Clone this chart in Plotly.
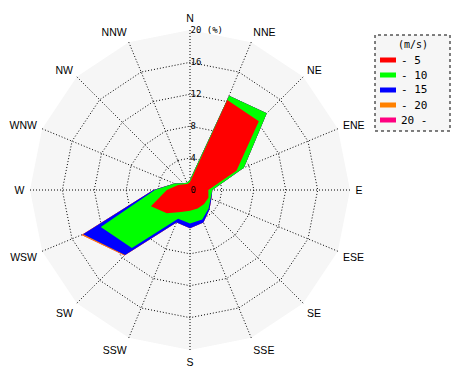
import numpy as np
import plotly.graph_objects as go

directions = ["N", "NNE", "NE", "ENE", "E", "ESE", "SE", "SSE",
              "S", "SSW", "SW", "WSW", "W", "WNW", "NW", "NNW"]

# frequency (%) per wind-speed class and direction
speed_classes = ["- 5", "- 10", "- 15", "- 20", "20 -"]
freq_0_5   = [1.0, 12.2, 12.2, 6.3, 2.3, 2.5, 2.5, 2.5, 2.6, 3.0, 4.1, 5.3, 2.9, 1.6, 1.0, 0.8]
freq_5_10  = [0.3, 0.6, 1.4, 1.0, 0.5, 0.3, 0.8, 1.5, 1.6, 0.9, 6.2, 6.8, 1.5, 0.5, 0.2, 0.2]
freq_10_15 = [0.0, 0.0, 0.0, 0.0, 0.0, 0.1, 0.15, 0.4, 0.6, 0.5, 1.2, 2.4, 0.2, 0.0, 0.0, 0.0]
freq_15_20 = [0.0, 0.0, 0.0, 0.0, 0.0, 0.0, 0.0, 0.0, 0.0, 0.0, 0.1, 0.2, 0.0, 0.0, 0.0, 0.0]
freq_20_up = [0.0] * 16
colors = ["#ff0000", "#00ff00", "#0000ff", "#ff8000", "#ff0080"]

radial_ticks = [0, 4, 8, 12, 16, 20]
radial_ticktext = ["0", "4", "8", "12", "16", "20 (%)"]
legend_title = "(m/s)"

series = [freq_0_5, freq_5_10, freq_10_15, freq_15_20, freq_20_up]
cum = np.cumsum(np.array(series), axis=0)

fig = go.Figure()
# draw outermost (cumulative) first so smaller classes sit on top
for i in reversed(range(len(series))):
    fig.add_trace(go.Scatterpolar(
        r=list(cum[i]), theta=directions,
        mode="lines", fill="toself", fillcolor=colors[i],
        line=dict(width=0, color=colors[i]),
        name=speed_classes[i], showlegend=False,
        hoverinfo="skip",
    ))

W, H = 470, 380
cx, cy, R = 190, 190, 160
DOT = "1px,2px"

# hand-built legend box (compact rows like the reference)
lx0, lx1, ly0, ly1 = 375, 450, 35, 131
shapes = [dict(type="rect", xref="paper", yref="paper",
               x0=lx0 / W, x1=lx1 / W, y0=1 - ly1 / H, y1=1 - ly0 / H,
               line=dict(color="black", width=1, dash="dot"),
               fillcolor="#f6f6f6", layer="below")]
annotations = [dict(text=legend_title, xref="paper", yref="paper",
                    x=413 / W, y=1 - 44 / H, xanchor="center", yanchor="middle",
                    showarrow=False,
                    font=dict(family="DejaVu Sans Mono", size=10, color="black"))]
for k, (name, col) in enumerate(zip(speed_classes, colors)):
    yc = 60 + 15 * k
    shapes.append(dict(type="rect", xref="paper", yref="paper",
                       x0=380 / W, x1=396 / W, y0=1 - (yc + 2.5) / H, y1=1 - (yc - 2.5) / H,
                       line=dict(width=0), fillcolor=col, layer="above"))
    annotations.append(dict(text=name, xref="paper", yref="paper",
                            x=399 / W, y=1 - yc / H, xanchor="left", yanchor="middle",
                            showarrow=False,
                            font=dict(family="DejaVu Sans Mono", size=11, color="black")))

fig.update_layout(
    width=W, height=H,
    margin=dict(l=0, r=0, t=0, b=0),
    paper_bgcolor="white",
    font=dict(family="Liberation Sans", size=12, color="black"),
    polar=dict(
        domain=dict(x=[(cx - R) / W, (cx + R) / W],
                    y=[1 - (cy + R) / H, 1 - (cy - R) / H]),
        bgcolor="#f6f6f6",
        gridshape="linear",
        angularaxis=dict(
            type="category", categoryarray=directions,
            rotation=90, direction="clockwise",
            showline=False, ticks="outside", ticklen=3, tickcolor="rgba(0,0,0,0)",
            showgrid=True, gridcolor="black", griddash=DOT, gridwidth=1,
            tickfont=dict(family="Liberation Sans", size=10.5),
        ),
        radialaxis=dict(
            range=[0, 20.05], angle=90, side="clockwise",
            tickvals=radial_ticks, ticktext=radial_ticktext,
            showline=False, ticks="",
            showgrid=True, gridcolor="black", griddash=DOT, gridwidth=1,
            tickfont=dict(family="DejaVu Sans Mono", size=9),
            tickangle=90,
        ),
    ),
    shapes=shapes,
    annotations=annotations,
    showlegend=False,
)

fig.write_html("out.html", config={"displayModeBar": False},
               post_script="document.body.style.margin='0';")
